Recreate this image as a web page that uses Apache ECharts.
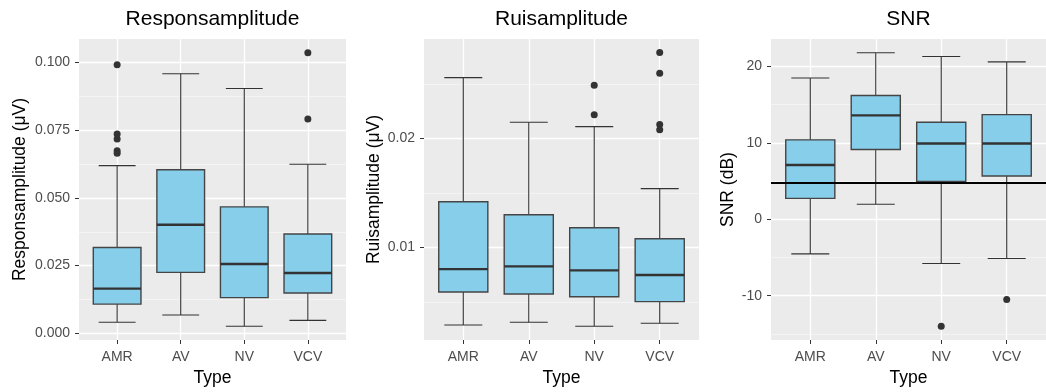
<!DOCTYPE html>
<html>
<head>
<meta charset="utf-8">
<script src="https://cdn.jsdelivr.net/npm/echarts@6/dist/echarts.min.js"></script>
<style>
  html, body { margin: 0; padding: 0; background: #fff; }
  #chart { width: 1046px; height: 392px; }
</style>
</head>
<body>
<div id="chart"></div>
<script>
// categories on the x axis (1..4)
const types = ['AMR', 'AV', 'NV', 'VCV']

// box stats per type: [lower whisker, Q1, median, Q3, upper whisker]
const respBoxes = [
  [0.0041, 0.0108, 0.0165, 0.0317, 0.0619],
  [0.0068, 0.0225, 0.0401, 0.0604, 0.0958],
  [0.0026, 0.0132, 0.0256, 0.0467, 0.0904],
  [0.0048, 0.0149, 0.0223, 0.0367, 0.0624]
]
// outliers: [typeIndex(1-based), value]
const respOutliers = [
  [1, 0.0991], [1, 0.0736], [1, 0.0717], [1, 0.0674], [1, 0.0665],
  [4, 0.1036], [4, 0.0791]
]

const ruisBoxes = [
  [0.00287, 0.0059, 0.0080, 0.0142, 0.0256],
  [0.00312, 0.00572, 0.00826, 0.0130, 0.0215],
  [0.00275, 0.00547, 0.00789, 0.0118, 0.0211],
  [0.00303, 0.00502, 0.00746, 0.0108, 0.0154]
]
const ruisOutliers = [
  [3, 0.0249], [3, 0.0222],
  [4, 0.0279], [4, 0.0260], [4, 0.0213], [4, 0.0208]
]

const snrBoxes = [
  [-4.53, 2.74, 7.1, 10.4, 18.5],
  [1.96, 9.14, 13.6, 16.2, 21.8],
  [-5.79, 4.96, 9.93, 12.7, 21.3],
  [-5.14, 5.66, 9.93, 13.7, 20.6]
]
const snrOutliers = [[3, -14.0], [4, -10.5]]
const snrThreshold = 4.75

// tick labels
const respTicks = [0, 0.025, 0.05, 0.075, 0.1]
const respMinor = [0.0125, 0.0375, 0.0625, 0.0875]
const ruisTicks = [0.01, 0.02]
const ruisMinor = [0.005, 0.015, 0.025]
const snrTicks = [-10, 0, 10, 20]
const snrMinor = [-15, -5, 5, 15]

const chart = echarts.init(document.getElementById('chart'))

const panels = [
  { title: 'Responsamplitude', yName: 'Responsamplitude (\u03bcV)', left: 79, width: 267, nameGap: 50,
    min: -0.00245, max: 0.10865, ticks: respTicks, minor: respMinor, digits: 3,
    boxes: respBoxes, outliers: respOutliers },
  { title: 'Ruisamplitude', yName: 'Ruisamplitude (\u03bcV)', left: 424, width: 275, nameGap: 41,
    min: 0.00149, max: 0.02915, ticks: ruisTicks, minor: ruisMinor, digits: 2,
    boxes: ruisBoxes, outliers: ruisOutliers },
  { title: 'SNR', yName: 'SNR (dB)', left: 771, width: 275, nameGap: 34,
    min: -15.8, max: 23.6, ticks: snrTicks, minor: snrMinor, digits: 0,
    boxes: snrBoxes, outliers: snrOutliers }
]

const FONT = 'Liberation Sans, Arial, sans-serif'

function renderBox(params, api) {
  const x = api.value(0)
  const lo = api.coord([x, api.value(1)])
  const q1 = api.coord([x, api.value(2)])
  const med = api.coord([x, api.value(3)])
  const q3 = api.coord([x, api.value(4)])
  const hi = api.coord([x, api.value(5)])
  const bl = api.coord([x - 0.375, 0])[0]
  const br = api.coord([x + 0.375, 0])[0]
  const cl = api.coord([x - 0.29, 0])[0]
  const cr = api.coord([x + 0.29, 0])[0]
  const line = { stroke: '#333333', lineWidth: 1.1 }
  return {
    type: 'group',
    children: [
      { type: 'line', shape: { x1: lo[0], y1: lo[1], x2: hi[0], y2: hi[1] }, style: line },
      { type: 'line', shape: { x1: cl, y1: lo[1], x2: cr, y2: lo[1] }, style: line },
      { type: 'line', shape: { x1: cl, y1: hi[1], x2: cr, y2: hi[1] }, style: line },
      { type: 'rect', shape: { x: bl, y: q3[1], width: br - bl, height: q1[1] - q3[1] },
        style: { fill: '#87CEEB', stroke: '#454545', lineWidth: 1.4 } },
      { type: 'line', shape: { x1: bl, y1: med[1], x2: br, y2: med[1] },
        style: { stroke: '#333333', lineWidth: 2.4 } }
    ]
  }
}

const grid = [], xAxis = [], yAxis = [], series = [], title = []

panels.forEach((p, i) => {
  grid.push({ left: p.left, top: 39, width: p.width, height: 301, show: true,
    backgroundColor: '#EBEBEB', borderWidth: 0 })
  title.push({ text: p.title, left: p.left + p.width / 2, top: 9, textAlign: 'center', padding: 0,
    textStyle: { fontFamily: FONT, fontSize: 21, fontWeight: 'normal', color: '#000' } })
  xAxis.push({
    type: 'value', gridIndex: i, min: 0.4, max: 4.6, position: 'bottom',
    name: 'Type', nameLocation: 'middle', nameGap: 29,
    nameTextStyle: { fontFamily: FONT, fontSize: 17.5, color: '#000' },
    axisLine: { show: false, onZero: false },
    axisTick: { show: true, length: 4, customValues: [1, 2, 3, 4], lineStyle: { color: '#333333', width: 1 } },
    axisLabel: { customValues: [1, 2, 3, 4], margin: 10, fontFamily: FONT, fontSize: 14, color: '#4D4D4D',
      formatter: v => types[Math.round(v) - 1] },
    splitLine: { show: true, lineStyle: { color: '#FFFFFF', width: 1.3 } }
  })
  // main y axis
  yAxis.push({
    type: 'value', gridIndex: i, min: p.min, max: p.max,
    name: p.yName, nameLocation: 'middle', nameGap: p.nameGap,
    nameTextStyle: { fontFamily: FONT, fontSize: 17.5, color: '#000' },
    axisLine: { show: false, onZero: false },
    axisTick: { show: true, length: 4, customValues: p.ticks, lineStyle: { color: '#333333', width: 1 } },
    axisLabel: { customValues: p.ticks, margin: 9, fontFamily: FONT, fontSize: 14, color: '#4D4D4D',
      formatter: v => v.toFixed(p.digits) },
    splitLine: { show: true, lineStyle: { color: '#FFFFFF', width: 1.3 } }
  })
  // minor grid lines
  yAxis.push({
    type: 'value', gridIndex: i, min: p.min, max: p.max, position: 'left',
    axisLine: { show: false, onZero: false },
    axisTick: { show: false, customValues: p.minor },
    axisLabel: { show: false, customValues: p.minor },
    splitLine: { show: true, lineStyle: { color: '#F5F5F5', width: 0.9 } }
  })

  series.push({
    type: 'custom', xAxisIndex: i, yAxisIndex: i * 2, renderItem: renderBox,
    encode: { x: 0, y: [1, 2, 3, 4, 5] },
    data: p.boxes.map((b, k) => [k + 1].concat(b)),
    z: 3
  })
  const sc = {
    type: 'scatter', xAxisIndex: i, yAxisIndex: i * 2, symbolSize: 7,
    itemStyle: { color: '#333333', opacity: 1 },
    data: p.outliers, z: 4
  }
  if (i === 2) {
    sc.markLine = {
      silent: true, symbol: 'none', label: { show: false },
      lineStyle: { color: '#000', width: 2.2, type: 'solid' },
      data: [{ yAxis: snrThreshold }]
    }
  }
  series.push(sc)
})

chart.setOption({
  animation: false,
  backgroundColor: '#FFFFFF',
  title, grid, xAxis, yAxis, series
})
</script>
</body>
</html>
